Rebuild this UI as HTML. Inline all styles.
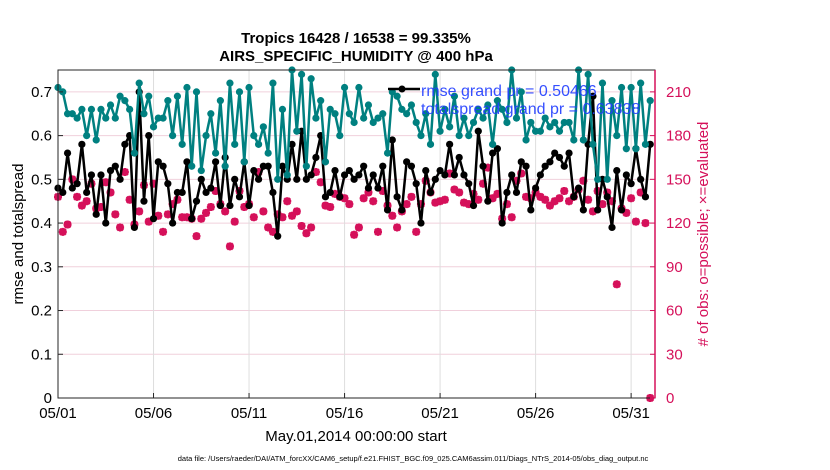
<!DOCTYPE html>
<html><head><meta charset="utf-8"><style>
html,body{margin:0;padding:0;background:#fff;}
svg{display:block;font-family:"Liberation Sans",sans-serif;}
</style></head><body>
<svg id="chart" width="830" height="470" viewBox="0 0 830 470" xmlns="http://www.w3.org/2000/svg">
<g id="grid"></g>
<g id="series"></g>
<rect x="58" y="70" width="597" height="328" fill="none" stroke="#262626" stroke-width="1"/>
<g id="axes"></g>
<text x="356" y="43" text-anchor="middle" font-size="15" font-weight="bold" fill="#000">Tropics 16428 / 16538 = 99.335%</text>
<text x="356" y="61" text-anchor="middle" font-size="15" font-weight="bold" fill="#000">AIRS_SPECIFIC_HUMIDITY @ 400 hPa</text>
<text transform="translate(23,234) rotate(-90)" text-anchor="middle" font-size="15" fill="#000">rmse and totalspread</text>
<text transform="translate(708,234) rotate(-90)" text-anchor="middle" font-size="15" fill="#d5105a"># of obs: o=possible; ×=evaluated</text>
<text x="356" y="441" text-anchor="middle" font-size="15" fill="#000">May.01,2014 00:00:00 start</text>
<text x="413" y="461" text-anchor="middle" font-size="7.5" fill="#000">data file: /Users/raeder/DAI/ATM_forcXX/CAM6_setup/f.e21.FHIST_BGC.f09_025.CAM6assim.011/Diags_NTrS_2014-05/obs_diag_output.nc</text>
<g id="legend">
<line x1="388" y1="89" x2="420" y2="89" stroke="#000" stroke-width="2.5"/>
<circle cx="402" cy="89" r="3.5" fill="#000"/>
<text x="421" y="96" font-size="16" fill="#1f3cff" fill-opacity="0.9">rmse grand pr = 0.50466</text>
<text x="421" y="114" font-size="16" fill="#1f3cff" fill-opacity="0.9">totalspread grand pr = 0.63838</text>
</g>
</svg>
<script>
const xTickLabels = ["05/01","05/06","05/11","05/16","05/21","05/26","05/31"];
const xTickDays = [0,5,10,15,20,25,30];
const leftTicks = [0,0.1,0.2,0.3,0.4,0.5,0.6,0.7];
const rightTicks = [0,30,60,90,120,150,180,210];
const spread = [0.71,0.70,0.65,0.65,0.64,0.66,0.60,0.66,0.59,0.66,0.64,0.67,0.64,0.69,0.68,0.66,0.56,0.72,0.65,0.69,0.62,0.64,0.64,0.68,0.60,0.69,0.58,0.71,0.53,0.70,0.52,0.60,0.65,0.56,0.68,0.53,0.72,0.58,0.70,0.54,0.71,0.60,0.58,0.62,
0.56,0.72,0.50,0.66,0.51,0.75,0.61,0.74,0.53,0.73,0.64,0.68,0.54,0.66,0.65,0.60,0.71,0.65,0.63,0.71,0.64,0.67,0.63,0.64,0.65,0.56,0.70,0.69,0.66,0.65,0.67,0.63,0.60,0.65,0.58,0.74,0.61,0.66,0.62,0.69,0.60,0.64,
0.60,0.63,0.66,0.64,0.67,0.58,0.68,0.66,0.63,0.75,0.64,0.70,0.59,0.63,0.61,0.61,0.64,0.62,0.63,0.61,0.63,0.63,0.59,0.75,0.59,0.74,0.58,0.50,0.72,0.50,0.68,0.60,0.71,0.57,0.71,0.57,0.72,0.58,0.68];
const rmse = [0.48,0.47,0.56,0.48,0.49,0.58,0.47,0.51,0.42,0.51,0.40,0.52,0.53,0.50,0.58,0.60,0.39,0.70,0.45,0.60,0.41,0.54,0.53,0.49,0.40,0.47,0.47,0.54,0.41,0.45,0.50,0.47,0.48,0.54,0.44,0.55,0.44,0.50,0.46,0.54,0.44,0.52,0.50,0.53,
0.53,0.47,0.37,0.53,0.50,0.58,0.50,0.61,0.50,0.51,0.55,0.60,0.46,0.47,0.52,0.46,0.51,0.52,0.50,0.51,0.53,0.48,0.51,0.48,0.53,0.43,0.59,0.46,0.43,0.54,0.53,0.49,0.40,0.52,0.47,0.50,0.52,0.51,0.58,0.51,
0.55,0.51,0.49,0.44,0.61,0.53,0.45,0.56,0.57,0.40,0.47,0.51,0.47,0.54,0.53,0.43,0.48,0.51,0.53,0.54,0.56,0.55,0.53,0.56,0.46,0.48,0.43,0.58,0.69,0.43,0.50,0.46,0.39,0.52,0.43,0.51,0.49,0.57,0.50,0.46,0.58];
const obsEvaluated = [138,114,119,150,138,132,135,147,130,131,148,141,126,117,155,136,119,128,146,121,147,125,114,126,133,136,124,124,123,111,123,127,131,142,133,128,104,121,142,131,133,124,155,128,
117,114,126,124,135,125,128,118,113,117,155,148,132,131,140,138,137,133,112,117,137,141,135,114,142,132,125,117,128,133,138,114,133,149,141,134,135,136,154,143,
141,134,133,140,136,147,158,137,140,123,133,124,149,154,138,137,141,138,136,132,135,137,142,135,138,143,149,136,128,142,133,141,135,78,130,127,137,121,141,120,0];
const obsPossible = obsEvaluated.slice();
const dayStep = 0.25;

const svgNS = "http://www.w3.org/2000/svg";
const X0=58, X1=655, Y0=398, Y1=70;
const xMax = 31.25, lMax = 0.75, rMax = 225;
const xs = d => X0 + d/xMax*(X1-X0);
const yl = v => Y0 - v/lMax*(Y0-Y1);
const yr = v => Y0 - v/rMax*(Y0-Y1);
function mk(tag, attrs, parent){const e=document.createElementNS(svgNS,tag);for(const k in attrs)e.setAttribute(k,attrs[k]);parent.appendChild(e);return e;}
const grid=document.getElementById('grid'), axes=document.getElementById('axes'), series=document.getElementById('series');

leftTicks.forEach((t,i)=>{
  const y=yl(t);
  if(i>0){const g=mk('line',{x1:X0,x2:X1,y1:y,y2:y,stroke:'#f0d0dc','stroke-width':1},grid);
  
  }
  const tk=mk('line',{x1:X0,x2:X0+5,y1:y,y2:y,stroke:'#262626'},axes);
  
  
  const tx=mk('text',{x:X0-6,y:y+5,'text-anchor':'end','font-size':15,fill:'#000'},axes);
  tx.textContent=String(t);
  
  
});
rightTicks.forEach(t=>{
  const y=yr(t);
  const tk=mk('line',{x1:X1-5,x2:X1,y1:y,y2:y,stroke:'#d5105a'},axes);
  
  
  const tx=mk('text',{x:X1+11,y:y+5,'font-size':15,fill:'#d5105a'},axes);
  tx.textContent=String(t);
  
  
});
const ra=mk('line',{x1:X1,x2:X1,y1:Y1,y2:Y0,stroke:'#d5105a','stroke-width':1.5},axes);


xTickDays.forEach((d,i)=>{
  const x=xs(d);
  if(i>0){const g=mk('line',{x1:x,x2:x,y1:Y1,y2:Y0,stroke:'#dedede'},grid);
  
  }
  const tk=mk('line',{x1:x,x2:x,y1:Y0,y2:Y0-5,stroke:'#262626'},axes);
  
  
  const tx=mk('text',{x:x,y:Y0+20,'text-anchor':'middle','font-size':15,fill:'#000'},axes);
  tx.textContent=xTickLabels[i];
  
  
});

obsPossible.forEach((v,i)=>{
  const c=mk('circle',{cx:xs(i*dayStep),cy:yr(v),r:3.2,fill:'none',stroke:'#d5105a','stroke-width':1.3},series);
  
  
});
obsEvaluated.forEach((v,i)=>{
  const x=xs(i*dayStep), y=yr(v);
  const p=mk('path',{d:`M${x-4},${y}L${x+4},${y}M${x},${y-4}L${x},${y+4}M${x-3},${y-3}L${x+3},${y+3}M${x-3},${y+3}L${x+3},${y-3}`,stroke:'#d5105a','stroke-width':2.4},series);
  
  
});
function line(arr,color,name){
  const pts=arr.map((v,i)=>xs(i*dayStep).toFixed(1)+','+yl(v).toFixed(1)).join(' ');
  const pl=mk('polyline',{points:pts,fill:'none',stroke:color,'stroke-width':2.5,'stroke-linejoin':'round'},series);
  
  
  arr.forEach((v,i)=>{
    const c=mk('circle',{cx:xs(i*dayStep),cy:yl(v),r:3.6,fill:color},series);
    
    
  });
}
line(rmse,'#000000','rmse');
line(spread,'#008080','totalspread');
</script>
</body></html>
